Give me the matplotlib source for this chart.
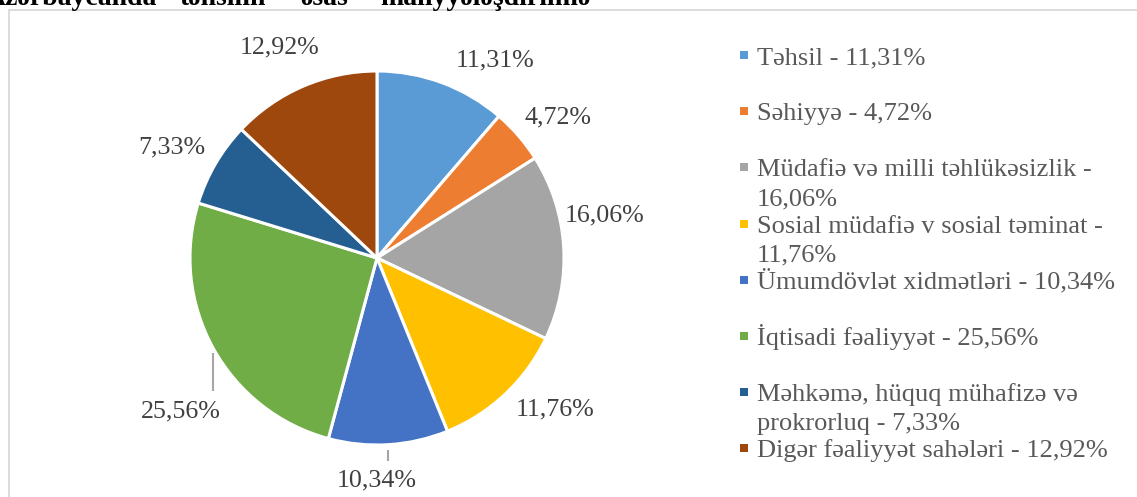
import matplotlib
matplotlib.use("Agg")
import matplotlib.pyplot as plt
import numpy as np
from matplotlib.patches import Rectangle

# ---------------- data ----------------
categories = ["Təhsil", "Səhiyyə", "Müdafiə və milli təhlükəsizlik",
              "Sosial müdafiə v sosial təminat", "Ümumdövlət xidmətləri",
              "İqtisadi fəaliyyət", "Məhkəmə, hüquq mühafizə və prokrorluq",
              "Digər fəaliyyət sahələri"]
shares = [11.31, 4.72, 16.06, 11.76, 10.34, 25.56, 7.33, 12.92]
value_labels = ["11,31%", "4,72%", "16,06%", "11,76%", "10,34%", "25,56%", "7,33%", "12,92%"]
legend_labels = ["Təhsil - 11,31%", "Səhiyyə - 4,72%",
                 "Müdafiə və milli təhlükəsizlik -\n16,06%",
                 "Sosial müdafiə v sosial təminat -\n11,76%",
                 "Ümumdövlət xidmətləri - 10,34%", "İqtisadi fəaliyyət - 25,56%",
                 "Məhkəmə, hüquq mühafizə və\nprokrorluq - 7,33%",
                 "Digər fəaliyyət sahələri - 12,92%"]
title_words = ["Azərbaycanda", "təhsilin", "əsas", "maliyyələşdirilmə"]

# ---------------- style / layout ----------------
colors = ["#5B9BD5", "#ED7D31", "#A5A5A5", "#FFC000",
          "#4472C4", "#70AD47", "#255E91", "#9E480E"]
W, H = 1137, 497
SERIF = ["Liberation Serif", "DejaVu Serif"]
label_angle_shift = [-10.6, -3.1, 7.3, 6.2, -3.5, 9.1, 1.9, 1.7]
label_dist = [1.23, 1.225, 1.24, 1.25, 1.19, 1.33, 1.245, 1.24]
leader_dx = [None, None, None, None, 11, 32, None, None]
title_x = [157, 180, 300, 380]
title_ha = ["right", "left", "left", "left"]

fig = plt.figure(figsize=(W / 100, H / 100), dpi=100)
ax = fig.add_axes([0, 0, 1, 1])


def Y(y):
    return H - y


# pie
cx, cy, R = 377, 258, 187
wedges, _ = ax.pie(shares, colors=colors, startangle=90, counterclock=False,
                   center=(cx, Y(cy)), radius=R, frame=True,
                   wedgeprops=dict(edgecolor="white", linewidth=2.2))
ax.set_xlim(0, W)
ax.set_ylim(0, H)
ax.set_aspect("equal")
ax.axis("off")

# border of chart area
ax.add_patch(Rectangle((8.5, Y(600)), 1200, 600 - 9.5, fill=False,
                       edgecolor="#D9D9D9", linewidth=1.3, zorder=0))

# partially cropped title line at the very top (cropped as in the source)
for w, x, ha in zip(title_words, title_x, title_ha):
    ax.text(x, Y(5), w, fontsize=20, fontweight="bold", family=SERIF,
            color="black", ha=ha, va="baseline", clip_on=False)

for i, wdg in enumerate(wedges):
    mid = np.deg2rad((wdg.theta1 + wdg.theta2) / 2 + label_angle_shift[i])
    lx = cx + R * label_dist[i] * np.cos(mid)
    ly = Y(cy) + R * label_dist[i] * np.sin(mid)
    ax.text(lx, ly, value_labels[i], fontsize=18.7, family=SERIF,
            color="#404040", ha="center", va="center")
    if leader_dx[i] is not None:
        x_line = lx + leader_dx[i]
        dy = np.sqrt(max(R ** 2 - (x_line - cx) ** 2, 0))
        y_edge = Y(cy) - dy
        ax.plot([x_line, x_line], [y_edge - 5, ly + 20], color="#A6A6A6",
                linewidth=1.5, solid_capstyle="butt")

# legend
leg_x, leg_y0, leg_step, line_step = 744, 55, 56.2, 29
for i, (lab, c) in enumerate(zip(legend_labels, colors)):
    yy = leg_y0 + i * leg_step
    ax.add_patch(Rectangle((leg_x - 4, Y(yy) - 4), 8, 8, facecolor=c,
                           edgecolor="none"))
    for k, line in enumerate(lab.split("\n")):
        ax.text(leg_x + 13, Y(yy + 9 + k * line_step), line, fontsize=19,
                family=SERIF, color="#595959", ha="left", va="baseline")

fig.savefig("out.png", dpi=100)
